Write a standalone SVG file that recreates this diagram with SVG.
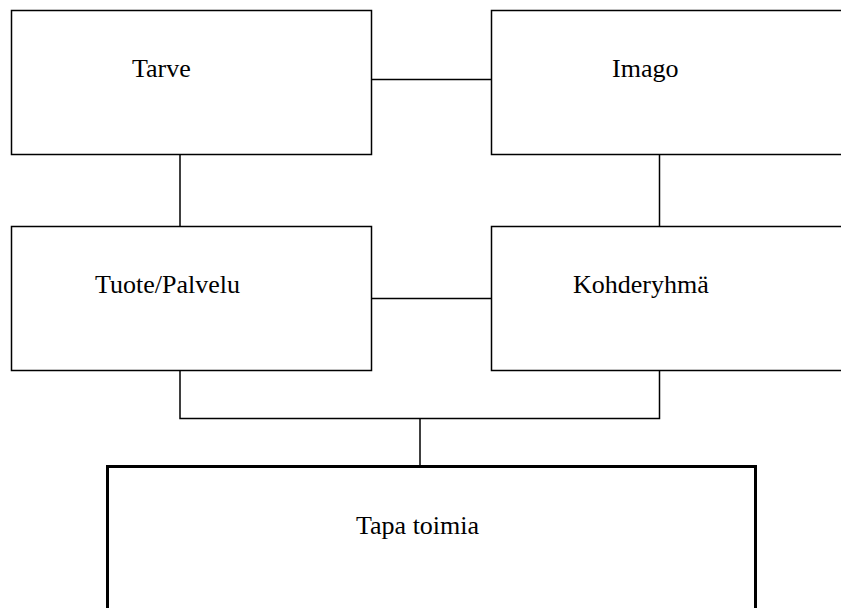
<svg xmlns="http://www.w3.org/2000/svg" width="841" height="608" viewBox="0 0 841 608">
<style>
.box{fill:#fff;stroke:#000;stroke-width:1.5}
.big{fill:#fff;stroke:#000;stroke-width:3}
.lbl{font-family:"Liberation Serif","Times New Roman",serif;font-size:26px;fill:#000}
.con{fill:none;stroke:#000;stroke-width:1.5}
</style>
<rect width="841" height="608" fill="#fff"/>
<g id="connectors">
<line class="con" x1="371.5" y1="79.5" x2="491.5" y2="79.5"/>
<line class="con" x1="180" y1="154.5" x2="180" y2="226.5"/>
<line class="con" x1="659.5" y1="154.5" x2="659.5" y2="226.5"/>
<line class="con" x1="371.5" y1="298.5" x2="491.5" y2="298.5"/>
<path class="con" d="M180 370.5 V418.5 H659.5 V370.5"/>
<line class="con" x1="420" y1="418.5" x2="420" y2="466"/>
</g>
<g id="tarve">
<rect class="box" x="11.5" y="10.5" width="360" height="144"/>
<text class="lbl" x="132" y="77">Tarve</text>
</g>
<g id="imago">
<rect class="box" x="491.5" y="10.5" width="400" height="144"/>
<text class="lbl" x="612" y="77">Imago</text>
</g>
<g id="tuote">
<rect class="box" x="11.5" y="226.5" width="360" height="144"/>
<text class="lbl" x="95" y="293">Tuote/Palvelu</text>
</g>
<g id="kohderyhma">
<rect class="box" x="491.5" y="226.5" width="400" height="144"/>
<text class="lbl" x="573" y="293">Kohderyhmä</text>
</g>
<g id="tapa">
<rect class="big" x="107.5" y="466.5" width="648" height="200"/>
<text class="lbl" x="356" y="534">Tapa toimia</text>
</g>
</svg>
